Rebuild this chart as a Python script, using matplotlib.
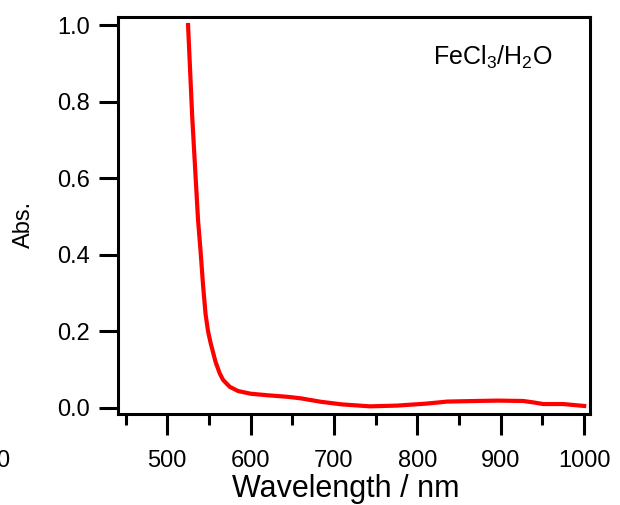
import matplotlib
matplotlib.use("Agg")
import matplotlib.pyplot as plt
from matplotlib.ticker import FormatStrFormatter

plt.rcParams['font.family'] = ['Liberation Sans', 'DejaVu Sans']
plt.rcParams['mathtext.default'] = 'regular'

wavelength = [525, 530, 537, 540, 543, 546, 549, 552, 558, 563, 567, 575, 585,
              600, 620, 644, 660, 684, 710, 743, 776, 810, 836, 870, 896, 927,
              940, 951, 975, 1000]
absorbance = [1.0, 0.76, 0.49, 0.41, 0.32, 0.245, 0.20, 0.17, 0.12, 0.09, 0.073,
              0.055, 0.044, 0.037, 0.033, 0.029, 0.025, 0.016, 0.009, 0.004,
              0.006, 0.011, 0.0165, 0.018, 0.019, 0.018, 0.014, 0.010, 0.010,
              0.005]
x_major = [500, 600, 700, 800, 900, 1000]
x_minor = [450, 550, 650, 750, 850, 950]
y_ticks = [0.0, 0.2, 0.4, 0.6, 0.8, 1.0]
label_text = r"FeCl$_3$/H$_2$O"

W, H = 620, 505
fig = plt.figure(figsize=(W / 100, H / 100), dpi=100)
ax = fig.add_axes([118 / W, 1 - 414 / H, (590 - 118) / W, (414 - 17) / H])

ax.plot(wavelength, absorbance, color='#ff0000', lw=3.0,
        solid_joinstyle='round')

ax.set_xlim(441, 1007)
ax.set_ylim(-0.016, 1.021)
ax.set_xticks(x_major)
ax.set_xticks(x_minor, minor=True)
ax.set_yticks(y_ticks)
ax.yaxis.set_major_formatter(FormatStrFormatter('%.1f'))

for s in ax.spines.values():
    s.set_linewidth(2.2)

ax.tick_params(axis='x', which='major', direction='out', length=15, width=2.2,
               labelsize=17, pad=11)
ax.tick_params(axis='x', which='minor', direction='out', length=8, width=2.2)
ax.tick_params(axis='y', which='major', direction='out', length=14, width=2.2,
               labelsize=17, pad=6)

ax.set_xlabel('Wavelength / nm', fontsize=22)
ax.xaxis.set_label_coords((346 - 118) / 472, -(474 - 414) / 397)
ax.set_ylabel('Abs.', fontsize=17)
ax.yaxis.set_label_coords(-(118 - 35) / 472, 1 - (224 - 17) / 397)

ax.text(0.794, 0.899, label_text, transform=ax.transAxes, fontsize=18,
        ha='center', va='center')

fig.text(9 / W, 1 - 461 / H, '0', fontsize=17, ha='right', va='center')

fig.savefig('out.png', dpi=100)
